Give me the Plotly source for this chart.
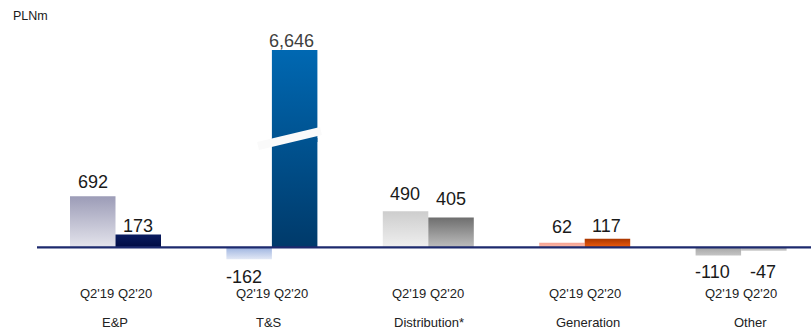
import plotly.graph_objects as go

# ---- data -------------------------------------------------------------
segments = ["E&P", "T&S", "Distribution*", "Generation", "Other"]
periods = ["Q2'19", "Q2'20"]
q2_19 = [692, -162, 490, 62, -110]
q2_20 = [173, 6646, 405, 117, -47]

# ---- styling ----------------------------------------------------------
# (colour at the bar end away from the baseline, colour at the baseline end)
colors_19 = [
    ("#9c9cb7", "#e4e4ec"),
    ("#e2e8f5", "#9db3e0"),
    ("#cdcdcd", "#efefef"),
    ("#f6a291", "#fbb9a9"),
    ("#c4c4c4", "#a6a6a6"),
]
colors_20 = [
    ("#0a1c60", "#010c44"),
    ("#0068b2", "#003a6a"),
    ("#6e6e6e", "#bdbdbd"),
    ("#a83600", "#f05c0e"),
    ("#c9c9c9", "#b0b0b0"),
]
# label offsets in px (dy positive = up)
dy_19 = [14.5, -17.8, 17, 16, -16.6]
dy_20 = [8.5, 9, 18.3, 12.4, -21]
dx_19 = [0, -5, -1, 0.5, -5.5]
dx_20 = [0, -3.5, -0.5, -0.5, -1]
name_dx = [-0.5, -3, 1, 3.5, 9]

W, H = 811, 331
PLOT_LEFT = 37
ZERO_PX = 247.3
PX_PER_UNIT = 0.0737
GROUP_PX = 156.4
FIRST_CENTER_PX = 115.5
BAR_PX = 45.5
BROKEN_TOP_PX = 50      # visual top of the broken bar
LOW_CUT_PX = 138        # lower piece of broken bar ends here
HIGH_CUT_PX = 142       # upper piece starts here
PERIOD_ROW_PX = 293.3
NAME_ROW_PX = 322.5

y_range = [-(H - ZERO_PX) / PX_PER_UNIT, ZERO_PX / PX_PER_UNIT]
x0 = -(FIRST_CENTER_PX - PLOT_LEFT) / GROUP_PX
x_range = [x0, x0 + (W - PLOT_LEFT) / GROUP_PX]
bw = BAR_PX / GROUP_PX

FONT = "Liberation Sans, Arial, sans-serif"

fig = go.Figure()
annotations = []


def add_bar(xl, xr, y_lo, y_hi, cs_lo, cs_hi, yaxis="y", start=None, stop=None):
    grad = dict(type="vertical", colorscale=[[0, cs_lo], [1, cs_hi]])
    if start is not None:
        grad["start"] = start
        grad["stop"] = stop
    fig.add_trace(go.Scatter(
        x=[xl, xr, xr, xl, xl],
        y=[y_lo, y_lo, y_hi, y_hi, y_lo],
        mode="none", fill="toself", fillgradient=grad,
        hoverinfo="skip", showlegend=False, yaxis=yaxis,
    ))


broken = None
for i, seg in enumerate(segments):
    for k, (vals, cols, dys, dxs) in enumerate(
            [(q2_19, colors_19, dy_19, dx_19), (q2_20, colors_20, dy_20, dx_20)]):
        v = vals[i]
        far, near = cols[i]
        xl = i - bw if k == 0 else i
        xr = xl + bw
        xc = (xl + xr) / 2
        yref = "y"
        if v > y_range[1]:
            broken = (xl, xr, v, far, near)
            yref = "y2"
        elif v >= 0:
            add_bar(xl, xr, 0, v, near, far)
        else:
            add_bar(xl, xr, v, 0, far, near)
        annotations.append(dict(
            x=xc, y=v, xref="x", yref=yref, text=f"{v:,}",
            showarrow=False, yanchor="middle", xanchor="center",
            yshift=dys[i], xshift=dxs[i],
            font=dict(family=FONT, size=18,
                      color="#404040" if yref == "y2" else "#1a1a1a"),
        ))
    annotations.append(dict(
        x=i, y=1 - PERIOD_ROW_PX / H, xref="x", yref="paper",
        text=" ".join(periods), showarrow=False,
        xanchor="center", yanchor="middle",
        font=dict(family=FONT, size=13, color="#222222"),
    ))
    annotations.append(dict(
        x=i, y=1 - NAME_ROW_PX / H, xref="x", yref="paper", xshift=name_dx[i],
        text=seg, showarrow=False, xanchor="center", yanchor="middle",
        font=dict(family=FONT, size=13, color="#222222"),
    ))

# broken bar: lower piece on y, upper piece on y2 (shifted scale)
y2_max = broken[2] + BROKEN_TOP_PX / PX_PER_UNIT
y2_range = [y2_max - H / PX_PER_UNIT, y2_max]
if broken:
    xl, xr, v, far, near = broken
    low_cut = (ZERO_PX - LOW_CUT_PX) / PX_PER_UNIT
    vis_top = (ZERO_PX - BROKEN_TOP_PX) / PX_PER_UNIT
    add_bar(xl, xr, 0, low_cut, near, far, start=0, stop=vis_top)
    high_cut = y2_max - HIGH_CUT_PX / PX_PER_UNIT
    vis_zero = y2_max - ZERO_PX / PX_PER_UNIT
    add_bar(xl, xr, high_cut, v, near, far, yaxis="y2", start=vis_zero, stop=v)

annotations.append(dict(
    x=30 / W, y=1 - 16 / H, xref="paper", yref="paper", text="PLNm",
    showarrow=False, xanchor="center", yanchor="middle",
    font=dict(family=FONT, size=12.5, color="#1a1a1a"),
))

shapes = [
    # baseline
    dict(type="line", xref="paper", yref="y", x0=PLOT_LEFT / W, x1=1, y0=0, y1=0,
         line=dict(color="#1d2a6e", width=2.2), layer="above"),
    # axis break marker
    dict(type="line", xref="paper", yref="paper",
         x0=258 / W, y0=1 - 146 / H, x1=321 / W, y1=1 - 131 / H,
         line=dict(color="#fafafa", width=8), layer="above"),
]

fig.update_layout(
    width=W, height=H,
    margin=dict(l=0, r=0, t=0, b=0),
    paper_bgcolor="white", plot_bgcolor="white",
    xaxis=dict(domain=[PLOT_LEFT / W, 1], range=x_range, visible=False, fixedrange=True),
    yaxis=dict(domain=[0, 1], range=y_range, visible=False, fixedrange=True),
    yaxis2=dict(domain=[0, 1], range=y2_range, overlaying="y", visible=False, fixedrange=True),
    annotations=annotations,
    shapes=shapes,
    showlegend=False,
)

fig.write_html("out.html")
